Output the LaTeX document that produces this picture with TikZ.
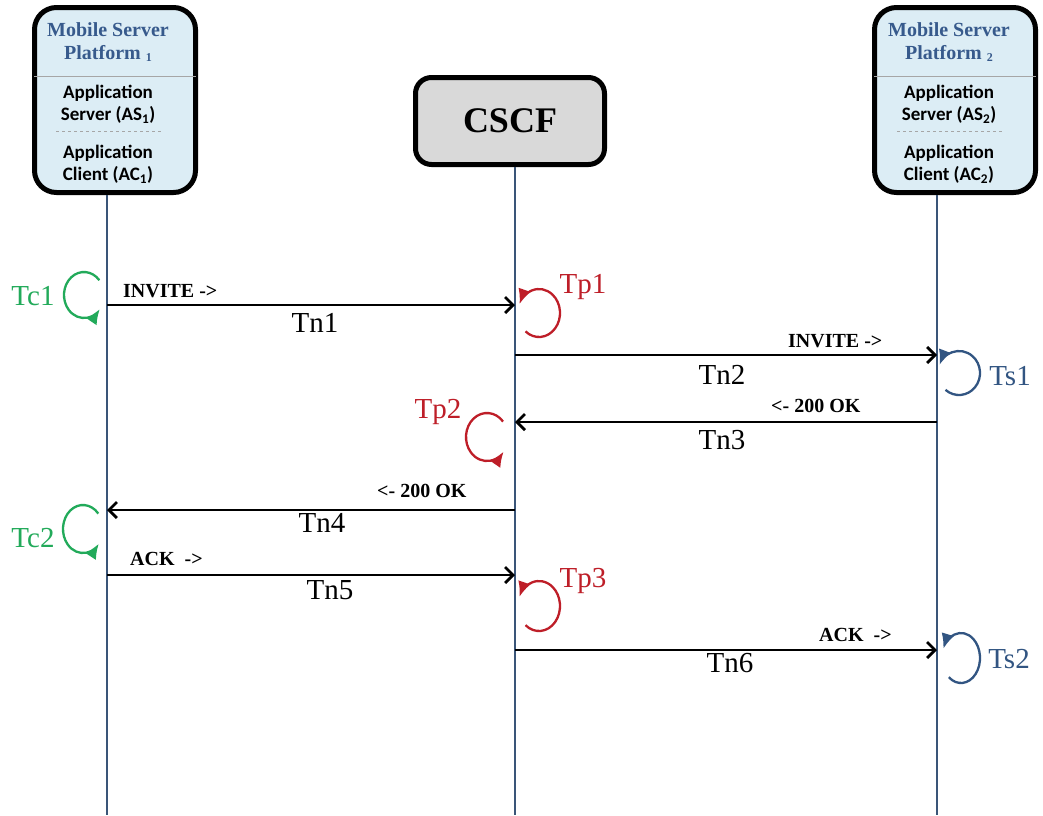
\documentclass[tikz,border=0pt]{standalone}
\usepackage{fontspec}
\setmainfont{Liberation Serif}
\newfontfamily\calib{Carlito}
\usepackage{tikz}
\usetikzlibrary{arrows.meta,calc,positioning}
\usepackage{xcolor}
\definecolor{boxblue}{RGB}{220,237,245}
\definecolor{cscfgray}{RGB}{217,217,217}
\definecolor{titleblue}{RGB}{55,90,140}
\definecolor{lifeblue}{RGB}{58,85,120}
\definecolor{tgreen}{RGB}{34,170,90}
\definecolor{tred}{RGB}{190,30,40}
\definecolor{tblue}{RGB}{50,85,130}
\newcommand{\subone}[1]{{\fontsize{12}{12}\selectfont\raisebox{-2pt}{#1}}}

\begin{document}
\begin{tikzpicture}[
    x=1pt,y=-1pt,
    box/.style={draw=black,line width=5pt,rounded corners=22pt,fill=boxblue,minimum width=161pt,minimum height=185pt,inner sep=0pt},
    cscfbox/.style={draw=black,line width=5pt,rounded corners=16pt,fill=cscfgray,minimum width=189pt,minimum height=87pt,font=\bfseries\fontsize{36}{38}\selectfont},
    ttl/.style={align=center,text=titleblue,font=\bfseries\fontsize{20}{23}\selectfont,inner sep=0pt},
    app/.style={align=center,font=\calib\bfseries\fontsize{19}{22}\selectfont,inner sep=0pt},
    sep/.style={line width=.8pt,gray!70},
    life/.style={line width=2.6pt,lifeblue},
    msg/.style={-{Straight Barb[length=8pt,width=16pt]},line width=2.8pt},
    lbl/.style={font=\bfseries\fontsize{20}{20}\selectfont,inner sep=0pt,anchor=base west},
    tn/.style={font=\fontsize{29}{29}\selectfont,inner sep=0pt,anchor=base},
    tmr/.style={-{Latex[length=15pt,width=13pt]},line width=2.3pt},
    tlb/.style={font=\fontsize{29}{29}\selectfont,inner sep=0pt,anchor=base}
  ]
    \useasboundingbox[fill=white] (0,0) rectangle (1043,815);
    % lifelines
    \coordinate (ll1) at (107,815); \coordinate (ll2) at (515,815); \coordinate (ll3) at (937,815);
    \node[box] (ms1) at (115,100) {}; \node[box] (ms2) at (955,100) {};
    \node[cscfbox] (cscf) at (510,121) {CSCF};
    \draw[life] (ms1.south -| ll1) -- (ll1);
    \draw[life] (cscf.south -| ll2) -- (ll2);
    \draw[life] (ms2.south -| ll3) -- (ll3);
    % platform boxes
    \foreach \n/\c/\i in {ms1/108/1,ms2/949/2} {
      \node[ttl] (\n t) at (\c,42) {Mobile Server\\Platform \subone{\i}};
      \node[app] (\n as) at (\c,104.5) {Application\\Server (AS\textsubscript{\i})};
      \node[app] (\n ac) at (\c,164.5) {Application\\Client (AC\textsubscript{\i})};
      \draw[sep] ($(\n.west)+(2,-24)$) -- ($(\n.east)+(-2,-24)$);
      \draw[sep,dashed] ($(\n ac.north)+(-52,-14)$) -- ($(\n ac.north)+(53,-14)$);
    }
    % messages
    \foreach \a/\b/\y in {ll1/ll2/305,ll2/ll3/355,ll3/ll2/422,ll2/ll1/510,ll1/ll2/575,ll2/ll3/650} {
      \draw[msg] (\a |- 0,\y) -- (\b |- 0,\y);
    }
    \node[lbl] (m1) at (123,297) {INVITE ->}; \node[tn] (n1) at (315,332) {Tn1};
    \node[lbl] (m2) at (788,347) {INVITE ->}; \node[tn] (n2) at (722,384) {Tn2};
    \node[lbl] (m3) at (771,412) {<- 200 OK}; \node[tn] (n3) at (722,449) {Tn3};
    \node[lbl] (m4) at (377,497) {<- 200 OK}; \node[tn] (n4) at (322,532) {Tn4};
    \node[lbl] (m5) at (130,565) {ACK\ \ ->}; \node[tn] (n5) at (330,599) {Tn5};
    \node[lbl] (m6) at (819,641) {ACK\ \ ->}; \node[tn] (n6) at (730,672) {Tn6};
    % timers
    \draw[tmr,tgreen] (84,295) ++(-40:20 and 23) arc[start angle=-40,end angle=-322,x radius=20,y radius=23];
    \draw[tmr,tgreen] (83,529) ++(-40:20 and 24) arc[start angle=-40,end angle=-322,x radius=20,y radius=24];
    \draw[tmr,tred] (487,437) ++(-40:21 and 24) arc[start angle=-40,end angle=-322,x radius=21,y radius=24];
    \draw[tmr,tred] (539,313) ++(130:21 and 24) arc[start angle=130,end angle=-158,x radius=21,y radius=24];
    \draw[tmr,tred] (539,606) ++(130:21 and 25) arc[start angle=130,end angle=-158,x radius=21,y radius=25];
    \draw[tmr,tblue] (959,373) ++(130:21 and 22) arc[start angle=130,end angle=-158,x radius=21,y radius=22];
    \draw[tmr,tblue] (961,658) ++(130:19 and 25) arc[start angle=130,end angle=-158,x radius=19,y radius=25];
    \node[tlb,text=tgreen] (tc1) at (33,305) {Tc1}; \node[tlb,text=tgreen] (tc2) at (33,547) {Tc2};
    \node[tlb,text=tred] (tp1) at (583,293) {Tp1}; \node[tlb,text=tred] (tp2) at (438,418) {Tp2};
    \node[tlb,text=tred] (tp3) at (583,587) {Tp3};
    \node[tlb,text=tblue] (ts1) at (1010,385) {Ts1}; \node[tlb,text=tblue] (ts2) at (1009,668) {Ts2};
\end{tikzpicture}
\end{document}
